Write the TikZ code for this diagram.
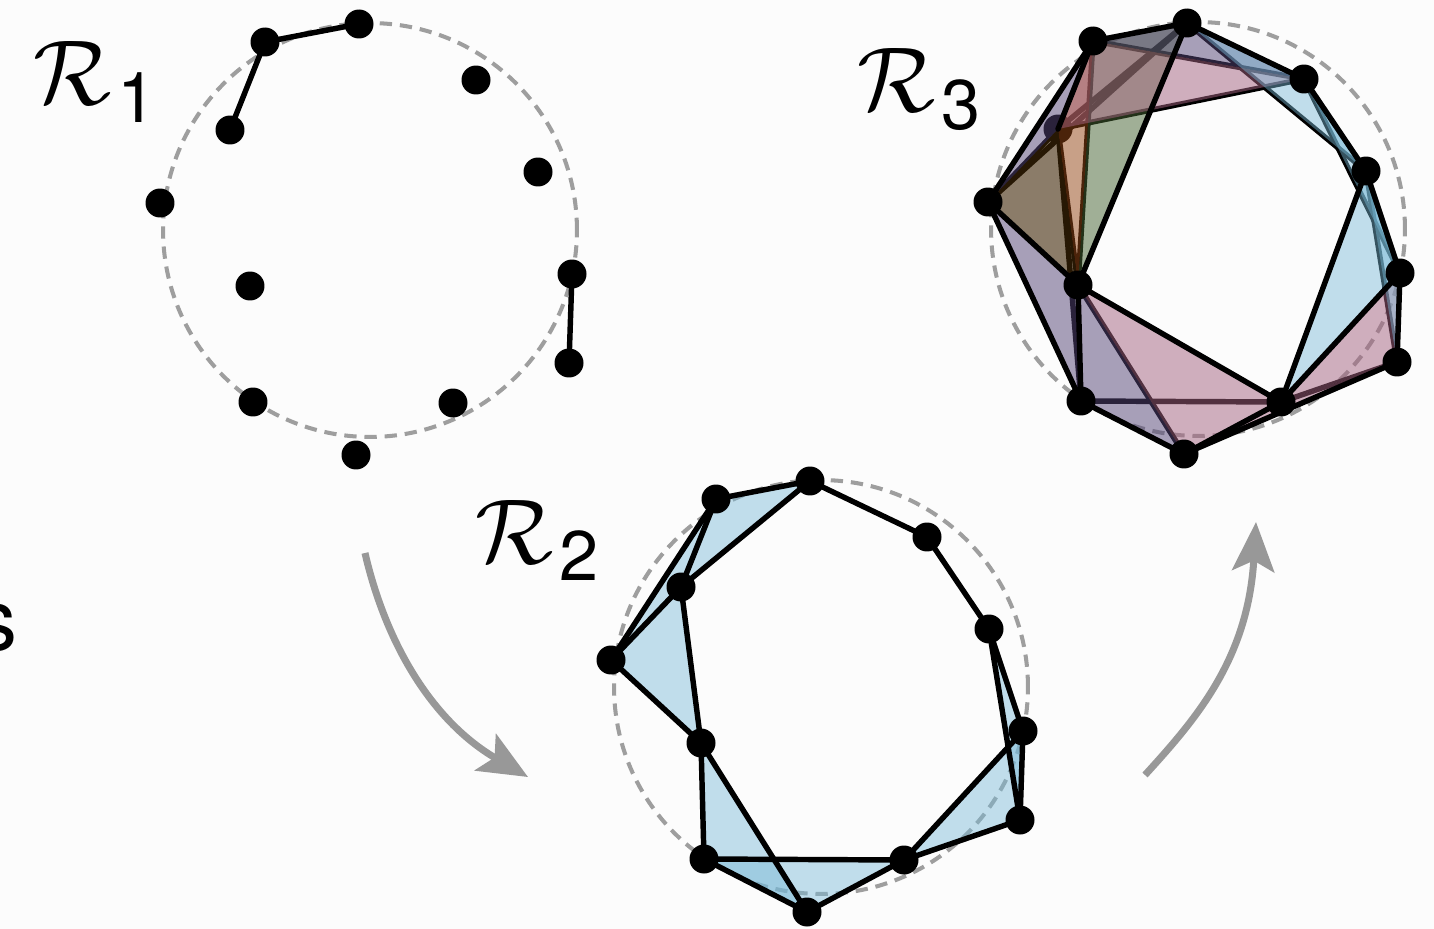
\documentclass[tikz,border=0pt]{standalone}
\usepackage{fontspec}
\setsansfont{TeX Gyre Heros}
\usepackage{amsmath, amssymb}
\usetikzlibrary{arrows.meta}

\definecolor{fondo}{RGB}{252,252,252}
\definecolor{guia}{RGB}{158,158,158}
\definecolor{flecha}{RGB}{152,152,152}
\definecolor{azul}{RGB}{120,185,215}
\definecolor{rosa}{RGB}{164,98,128}
\definecolor{lila}{RGB}{84,68,118}
\definecolor{verde}{RGB}{70,100,50}
\definecolor{naranja}{RGB}{150,70,20}
\definecolor{cafe}{RGB}{65,40,7}

\tikzset{
  arista/.style={line width=3.1pt, line cap=round, line join=round},
  guia/.style={draw=guia, line width=2.3pt, dash pattern=on 7pt off 4.5pt},
  transicion/.style={draw=flecha, line width=4pt, -{Stealth[length=28pt,width=24pt,inset=6pt]}},
}

% puntos de la muestra (relativos al centro del circulo)
\newcommand{\puntos}[1]{%
  \foreach \n/\px/\py in {a/-11/-206, b/-105/-188, c/-140/-100, d/-210/-27,
                          e/-120/56, f/-117/172, g/-14/225, h/83/173,
                          i/199/133, j/202/44, k/168/-58, l/106/-150}
    \coordinate (#1\n) at (\px,\py);}

\newcommand{\etiqueta}[1]{\scalebox{5.25}{$\mathcal{R}$}\kern0.12cm\raisebox{-0.36cm}{\fontsize{40}{48}\selectfont\sffamily #1}}

\begin{document}
\begin{tikzpicture}[x=0.02cm, y=-0.02cm]
    \fill[fondo] (0,0) rectangle (1434,929);
    \useasboundingbox (0,0) rectangle (1434,929);

    \node[anchor=base east, inner sep=0pt, font=\sffamily\fontsize{49}{55}\selectfont] (resto) at (18,650) {s};

    % Complejo R1
    \begin{scope}[shift={(370,230)}]
        \puntos{A}
        \draw[guia] (0,0) circle[radius=4.14cm];
        \draw[arista] (Aa) -- (Ab) -- (Ac);
        \draw[arista] (Aj) -- (Ai);
        \foreach \n in {a,...,l} \fill (A\n) circle[radius=0.29cm];
    \end{scope}
    \node[anchor=base west, inner sep=0pt] (etqA) at (33,105) {\etiqueta{1}};

    % Complejo R2
    \begin{scope}[shift={(821,687)}]
        \puntos{B}
        \draw[guia] (0,0) circle[radius=4.14cm];
        \foreach \u/\v/\w in {a/b/c, b/c/d, c/d/e, e/f/g, f/g/h, h/i/j, i/j/k}
            \fill[azul, fill opacity=0.45] (B\u) -- (B\v) -- (B\w) -- cycle;
        \foreach \u/\v in {a/b, a/c, a/l, b/c, b/d, c/d, c/e, d/e, e/f, e/g,
                           f/g, f/h, g/h, h/i, h/j, i/j, i/k, j/k, k/l}
            \draw[arista] (B\u) -- (B\v);
        \foreach \n in {a,...,l} \fill (B\n) circle[radius=0.29cm];
    \end{scope}
    \node[anchor=base west, inner sep=0pt] (etqB) at (475,563) {\etiqueta{2}};

    % Complejo R3
    \begin{scope}[shift={(1198,229)}]
        \puntos{C}
        \draw[guia] (0,0) circle[radius=4.14cm];
        % aristas que quedan debajo de los simplices
        \foreach \u/\v in {b/e, c/e, c/f, a/c, a/d, c/d, b/l, c/l, a/k,
                           e/g, f/h, h/i, i/k, j/l}
            \draw[arista] (C\u) -- (C\v);
        \fill (Cc) circle[radius=0.29cm];
        % simplices
        \foreach \u/\v/\w in {a/b/e}
            \fill[verde, fill opacity=0.5] (C\u) -- (C\v) -- (C\w) -- cycle;
        \foreach \u/\v/\w in {b/c/e}
            \fill[naranja, fill opacity=0.5] (C\u) -- (C\v) -- (C\w) -- cycle;
        \foreach \u/\v/\w in {c/d/e}
            \fill[cafe, fill opacity=0.6] (C\u) -- (C\v) -- (C\w) -- cycle;
        \foreach \u/\v/\w in {b/c/l, e/g/h, g/h/i, h/i/j}
            \fill[rosa, fill opacity=0.5] (C\u) -- (C\v) -- (C\w) -- cycle;
        \foreach \u/\v/\w in {a/b/l, b/c/d, d/e/f, e/f/g}
            \fill[lila, fill opacity=0.5] (C\u) -- (C\v) -- (C\w) -- cycle;
        \foreach \u/\v/\w in {a/l/k, h/j/k, i/j/k, j/k/l}
            \fill[azul, fill opacity=0.45] (C\u) -- (C\v) -- (C\w) -- cycle;
        % aristas de encima
        \foreach \u/\v in {a/b, a/l, a/e, b/c, b/d, d/e, d/f, e/f, e/h, f/g,
                           g/h, g/i, h/j, h/k, i/j, j/k, k/l}
            \draw[arista] (C\u) -- (C\v);
        \foreach \n in {a,b,d,e,f,g,h,i,j,k,l} \fill (C\n) circle[radius=0.29cm];
    \end{scope}
    \node[anchor=base west, inner sep=0pt] (etqC) at (857,112) {\etiqueta{3}};

    % flechas entre complejos
    \coordinate (iniA) at (365,553);
    \coordinate (finA) at (528,777);
    \draw[transicion] (iniA) .. controls (385,640) and (430,720) .. (finA);
    \coordinate (iniB) at (1145,775);
    \coordinate (finB) at (1256,522);
    \draw[transicion] (iniB) .. controls (1195,720) and (1248,660) .. (finB);

\end{tikzpicture}
\end{document}
